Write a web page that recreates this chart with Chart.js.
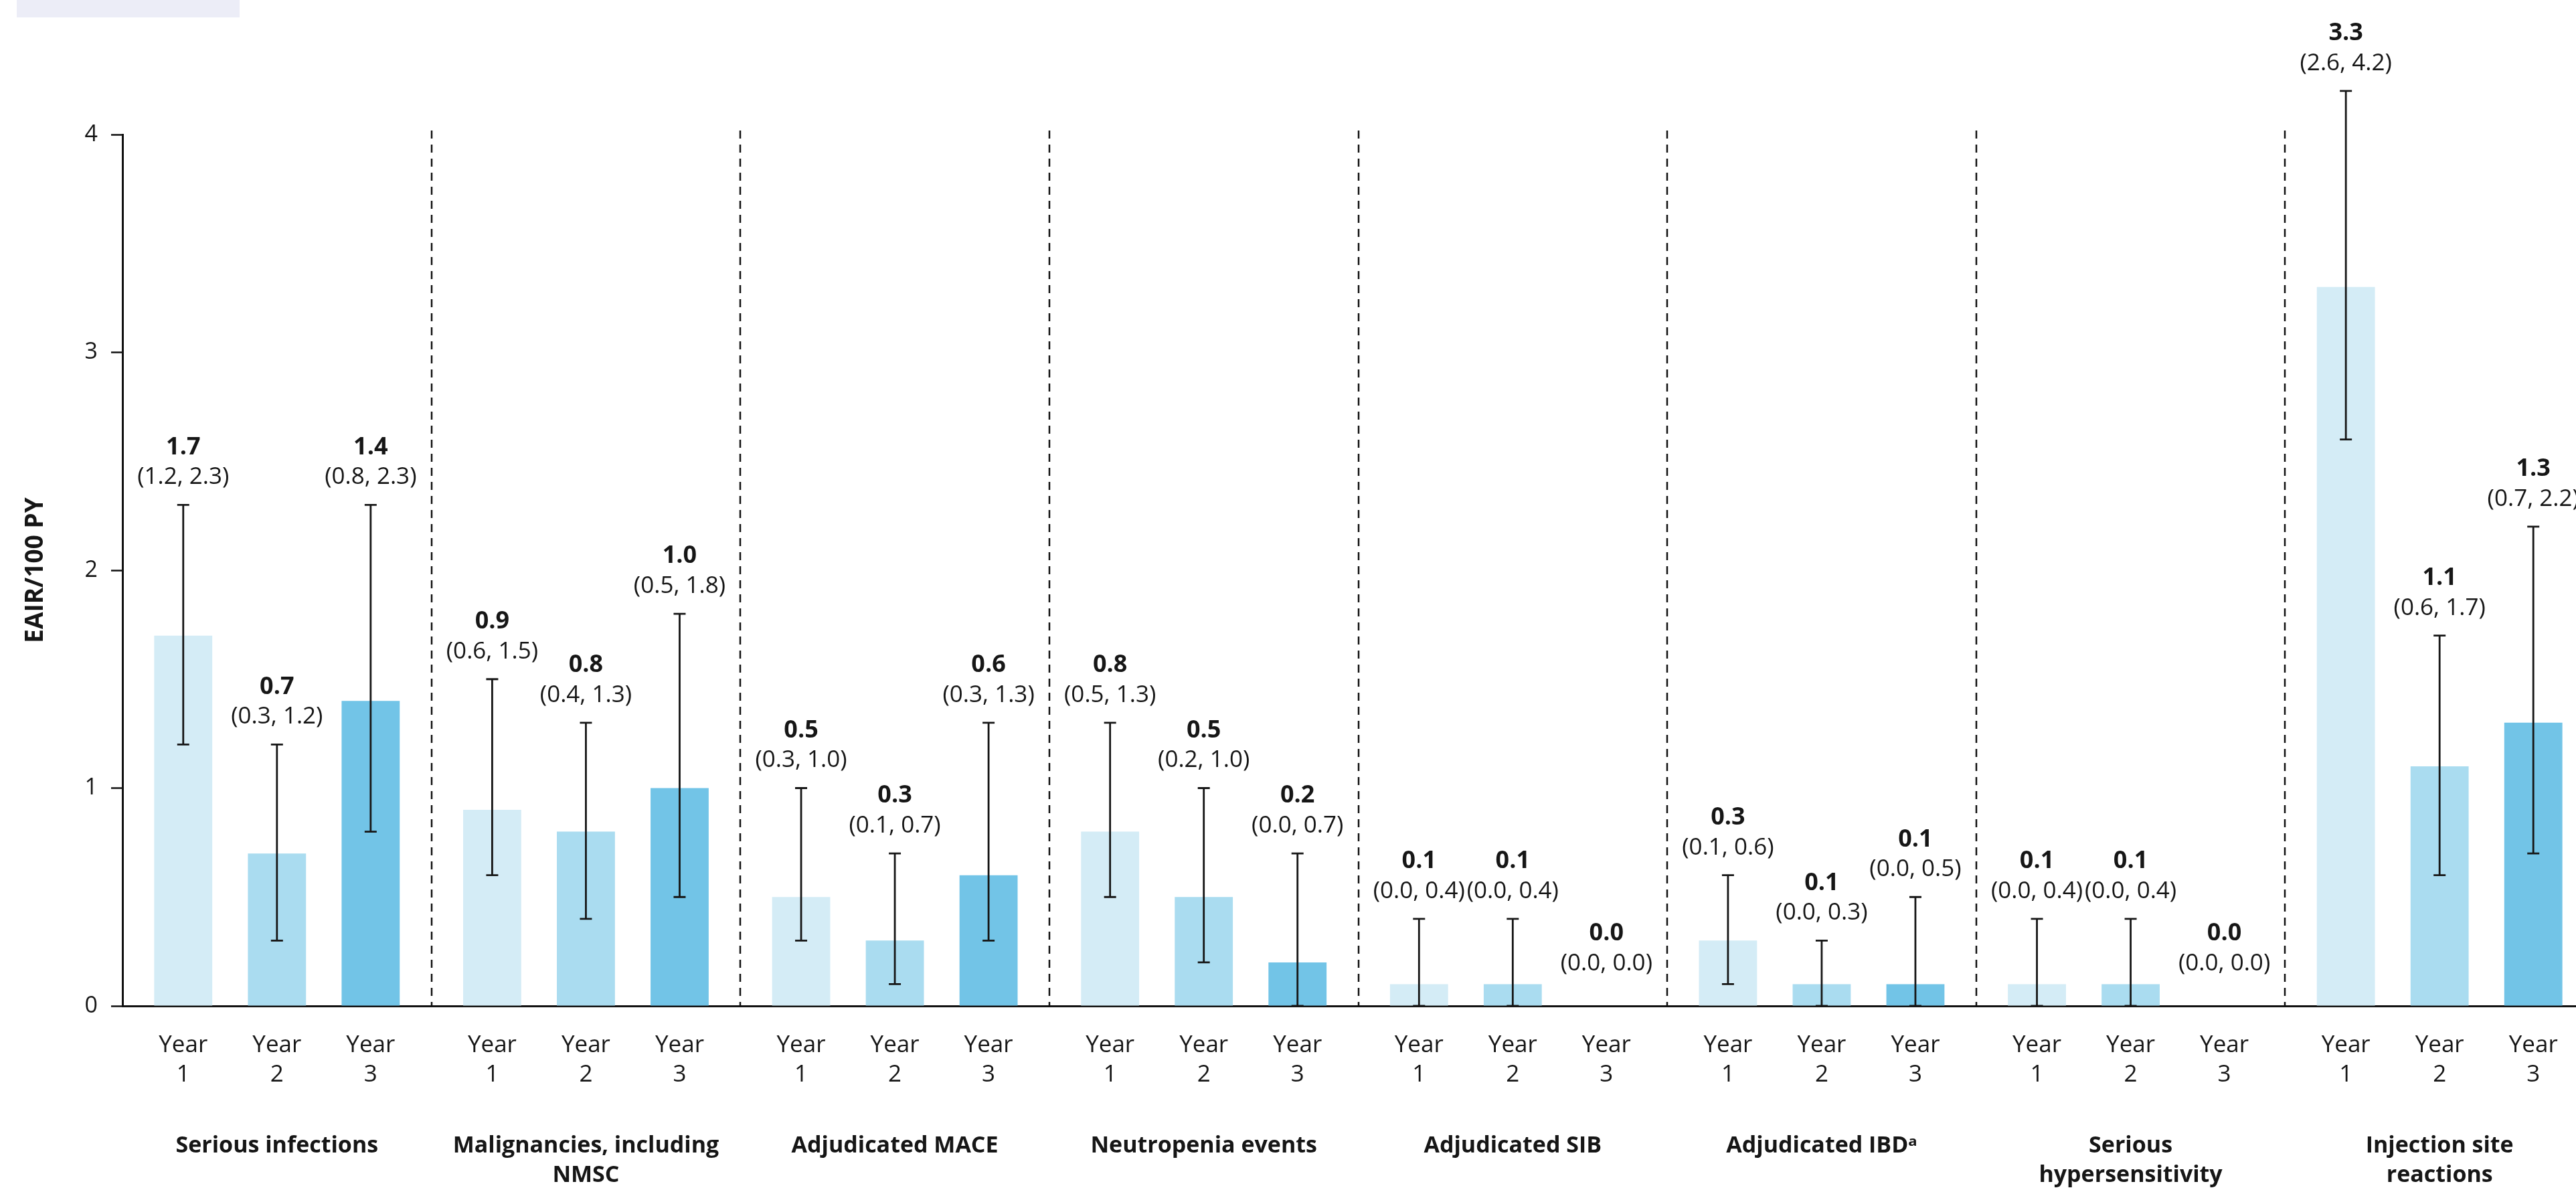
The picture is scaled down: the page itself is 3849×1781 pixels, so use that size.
<!DOCTYPE html>
<html>
<head>
<meta charset="utf-8">
<title>EAIR by year</title>
<script src="https://cdn.jsdelivr.net/npm/chart.js@4.4.1/dist/chart.umd.min.js"></script>
<style>
  html, body { margin: 0; padding: 0; background: #ffffff; overflow: hidden; }
  #wrap { position: relative; width: 3849px; height: 1781px; overflow: hidden; }
  #tab { position: absolute; left: 25px; top: 0; width: 333px; height: 26px; background: #ecedf7; }
  canvas { position: absolute; left: 0; top: 0; }
</style>
</head>
<body>
<div id="wrap">
  <div id="tab"></div>
  <canvas id="chart" width="3880" height="1781"></canvas>
</div>
<script>
// Event categories (x axis groups)
const categories = [
  ['Serious infections'],
  ['Malignancies, including', 'NMSC'],
  ['Adjudicated MACE'],
  ['Neutropenia events'],
  ['Adjudicated SIB'],
  ['Adjudicated IBD\u1D43'],
  ['Serious', 'hypersensitivity'],
  ['Injection site', 'reactions']
];

const yearNames = ['Year 1', 'Year 2', 'Year 3'];

// EAIR/100 PY per year
const eairYear1 = [1.7, 0.9, 0.5, 0.8, 0.1, 0.3, 0.1, 3.3];
const eairYear2 = [0.7, 0.8, 0.3, 0.5, 0.1, 0.1, 0.1, 1.1];
const eairYear3 = [1.4, 1.0, 0.6, 0.2, 0.0, 0.1, 0.0, 1.3];

// 95% CI bounds per year
const lowYear1 = [1.2, 0.6, 0.3, 0.5, 0.0, 0.1, 0.0, 2.6];
const highYear1 = [2.3, 1.5, 1.0, 1.3, 0.4, 0.6, 0.4, 4.2];
const lowYear2 = [0.3, 0.4, 0.1, 0.2, 0.0, 0.0, 0.0, 0.6];
const highYear2 = [1.2, 1.3, 0.7, 1.0, 0.4, 0.3, 0.4, 1.7];
const lowYear3 = [0.8, 0.5, 0.3, 0.0, 0.0, 0.0, 0.0, 0.7];
const highYear3 = [2.3, 1.8, 1.3, 0.7, 0.0, 0.5, 0.0, 2.2];

const yTicks = [0, 1, 2, 3, 4];

const FONT = "'Open Sans', 'Noto Sans', 'DejaVu Sans', sans-serif";
const INK = '#161616';

const lows = [lowYear1, lowYear2, lowYear3];
const highs = [highYear1, highYear2, highYear3];

// Error bars, value/CI labels, group separators and per-bar year labels
const annotate = {
  id: 'annotate',
  beforeDatasetsDraw(chart) {
    const { ctx, chartArea: area, scales: { x } } = chart;
    ctx.save();
    ctx.strokeStyle = '#111111';
    ctx.lineWidth = 2.5;
    ctx.setLineDash([12, 9]);
    for (let i = 1; i < categories.length; i++) {
      const xs = Math.round((x.getPixelForValue(i - 1) + x.getPixelForValue(i)) / 2);
      ctx.beginPath();
      ctx.moveTo(xs, area.top - 6);
      ctx.lineTo(xs, area.bottom);
      ctx.stroke();
    }
    ctx.restore();
  },
  afterDatasetsDraw(chart) {
    const { ctx, chartArea: area, scales: { y } } = chart;
    ctx.save();
    chart.data.datasets.forEach((ds, d) => {
      const meta = chart.getDatasetMeta(d);
      meta.data.forEach((bar, j) => {
        const cx = bar.x;
        const lo = lows[d][j], hi = highs[d][j];
        const yLo = y.getPixelForValue(lo);
        const yHi = y.getPixelForValue(hi);
        if (hi > lo) {
          ctx.strokeStyle = INK;
          ctx.lineWidth = 2.8;
          ctx.beginPath();
          ctx.moveTo(cx, yLo);
          ctx.lineTo(cx, yHi);
          ctx.moveTo(cx - 9, yHi);
          ctx.lineTo(cx + 9, yHi);
          ctx.moveTo(cx - 9, yLo);
          ctx.lineTo(cx + 9, yLo);
          ctx.stroke();
        }
        const base = yHi - (hi === 0 ? 22 : 0);
        ctx.fillStyle = INK;
        ctx.textAlign = 'center';
        ctx.textBaseline = 'middle';
        ctx.font = '400 35px ' + FONT;
        ctx.fillText('(' + lo.toFixed(1) + ', ' + hi.toFixed(1) + ')', cx, base - 41);
        ctx.font = '700 36px ' + FONT;
        ctx.fillText(ds.data[j].toFixed(1), cx, base - 86);
      });
    });
    // year labels under each bar
    ctx.fillStyle = INK;
    ctx.textAlign = 'center';
    ctx.textBaseline = 'middle';
    ctx.font = '400 35px ' + FONT;
    chart.data.datasets.forEach((ds, d) => {
      const meta = chart.getDatasetMeta(d);
      const parts = yearNames[d].split(' ');
      meta.data.forEach((bar) => {
        ctx.fillText(parts[0], bar.x, area.bottom + 59);
        ctx.fillText(parts[1], bar.x, area.bottom + 103);
      });
    });
    ctx.restore();
  }
};

new Chart(document.getElementById('chart'), {
  type: 'bar',
  data: {
    labels: categories,
    datasets: [
      { label: yearNames[0], data: eairYear1, backgroundColor: '#d4ecf6' },
      { label: yearNames[1], data: eairYear2, backgroundColor: '#aadcf0' },
      { label: yearNames[2], data: eairYear3, backgroundColor: '#72c4e7' }
    ]
  },
  options: {
    responsive: false,
    animation: false,
    devicePixelRatio: 1,
    categoryPercentage: 0.91,
    barPercentage: 0.62,
    layout: { padding: { top: 201, right: 4, left: 0, bottom: 0 } },
    plugins: {
      legend: { display: false },
      tooltip: { enabled: false }
    },
    scales: {
      x: {
        grid: { display: false, drawTicks: false },
        border: { display: true, color: '#111111', width: 3 },
        ticks: {
          autoSkip: false,
          maxRotation: 0,
          minRotation: 0,
          padding: 187,
          color: INK,
          font: { family: FONT, size: 34, weight: '700', lineHeight: '44px' }
        },
        afterFit(scale) {
          scale.height = 278;
          scale.paddingLeft = 0;
          scale.paddingRight = 0;
        }
      },
      y: {
        min: 0,
        max: 4,
        afterBuildTicks(scale) { scale.ticks = yTicks.map(v => ({ value: v })); },
        grid: {
          drawOnChartArea: false,
          drawTicks: true,
          tickLength: 17,
          tickWidth: 2.5,
          tickColor: '#111111'
        },
        border: { display: true, color: '#111111', width: 3 },
        ticks: {
          padding: 20,
          color: INK,
          font: { family: FONT, size: 34, weight: '400' }
        },
        title: {
          display: true,
          text: 'EAIR/100 PY',
          color: INK,
          padding: { top: 31, bottom: 0 },
          font: { family: FONT, size: 37, weight: '700', lineHeight: 1.2 }
        },
        afterFit(scale) { scale.width = 183; }
      }
    }
  },
  plugins: [annotate]
});
</script>
</body>
</html>
